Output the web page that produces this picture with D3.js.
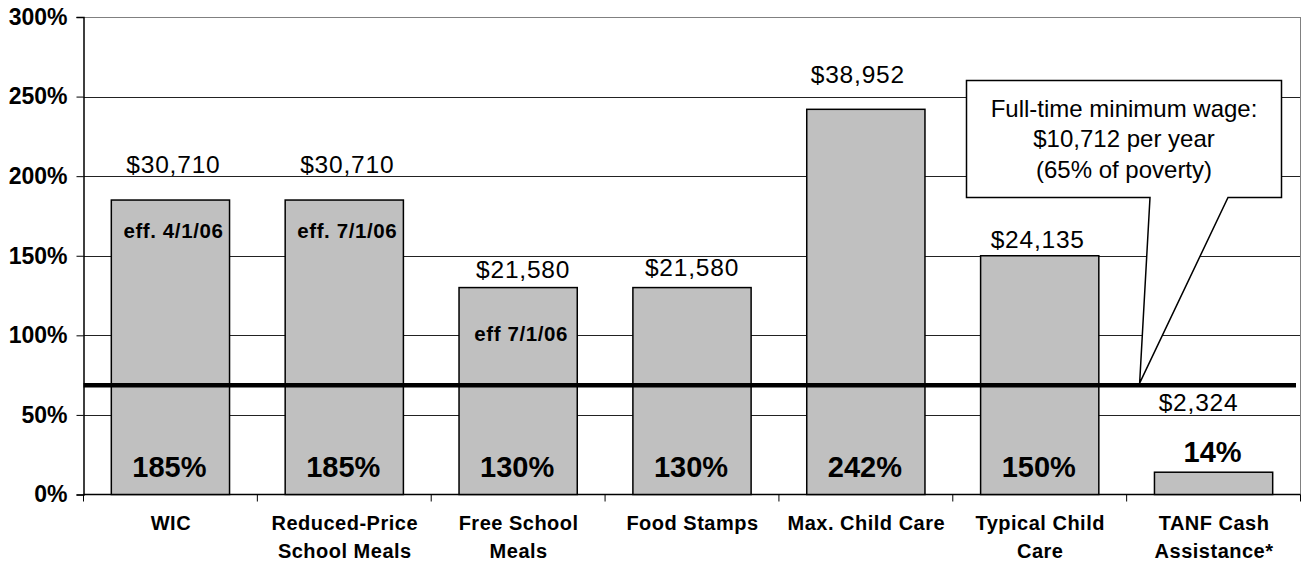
<!DOCTYPE html>
<html>
<head>
<meta charset="utf-8">
<script src="https://cdn.jsdelivr.net/npm/d3@7/dist/d3.min.js"></script>
<style>
  html, body { margin: 0; padding: 0; background: #fff; }
  svg { display: block; font-family: "Liberation Sans", Arial, Helvetica, sans-serif; }
</style>
</head>
<body>
<svg id="chart" width="1302" height="563"></svg>
<script>
// ---- data ----
const categories = [
  ["WIC"],
  ["Reduced-Price", "School Meals"],
  ["Free School", "Meals"],
  ["Food Stamps"],
  ["Max. Child Care"],
  ["Typical Child", "Care"],
  ["TANF Cash", "Assistance*"]
];
const percentOfPoverty = [185, 185, 130, 130, 242, 150, 14];
const dollarLabels = ["$30,710", "$30,710", "$21,580", "$21,580", "$38,952", "$24,135", "$2,324"];
const dollarLabelLevel = [202, 202, 136, 137, 258.5, 155, 52.4]; // in % units
const effectiveNotes = ["eff. 4/1/06", "eff. 7/1/06", "eff 7/1/06", "", "", "", ""];
const effectiveLevel = [161, 161, 96.5, 0, 0, 0, 0];
const yTicks = [0, 50, 100, 150, 200, 250, 300];
const minWageLevel = 68.7;
const calloutLines = ["Full-time minimum wage:", "$10,712 per year", "(65% of poverty)"];

// ---- layout ----
const svg = d3.select("#chart");
const pL = 83.5, pR = 1300.5, pT = 17, pB = 494.5;

const x = d3.scaleBand().domain(d3.range(categories.length)).range([pL, pR])
  .paddingInner(0.32).paddingOuter(0.16);
const y = d3.scaleLinear().domain([0, 300]).range([pB, pT]);

// gridlines
svg.append("g").selectAll("line").data(yTicks.filter(t => t > 0)).join("line")
  .attr("x1", pL).attr("x2", pR)
  .attr("y1", d => Math.round(y(d)) + 0.5).attr("y2", d => Math.round(y(d)) + 0.5)
  .attr("stroke", d => d === 300 ? "#808080" : "#222").attr("stroke-width", 1);

// right border
svg.append("line").attr("x1", pR).attr("x2", pR)
  .attr("y1", y(300)).attr("y2", y(0)).attr("stroke", "#808080").attr("stroke-width", 1);

// y axis
const yAxis = d3.axisLeft(y).tickValues(yTicks).tickSize(7).tickPadding(9)
  .tickFormat(d => d + "%");
const gy = svg.append("g").attr("transform", `translate(${pL},0)`).call(yAxis);
gy.select(".domain").attr("stroke", "#000").attr("stroke-width", 1.5);
gy.selectAll(".tick line").attr("stroke", "#000");
gy.selectAll(".tick text").attr("font-size", 23).attr("font-weight", "bold")
  .attr("fill", "#000").attr("font-family", "'Liberation Sans', Arial, sans-serif");

// x axis (category boundary ticks)
const boundaries = d3.range(categories.length + 1).map(i => pL + i * (pR - pL) / categories.length);
svg.append("line").attr("x1", pL).attr("x2", pR).attr("y1", pB).attr("y2", pB)
  .attr("stroke", "#000").attr("stroke-width", 1.5);
svg.append("g").selectAll("line").data(boundaries).join("line")
  .attr("x1", d => d).attr("x2", d => d).attr("y1", pB).attr("y2", pB + 7)
  .attr("stroke", "#000").attr("stroke-width", 1);

// bars
svg.append("g").selectAll("rect").data(percentOfPoverty).join("rect")
  .attr("x", (d, i) => x(i)).attr("width", x.bandwidth())
  .attr("y", d => y(d)).attr("height", d => y(0) - y(d))
  .attr("fill", "#c0c0c0").attr("stroke", "#000").attr("stroke-width", 1.5);

// category labels
const cx = i => x(i) + x.bandwidth() / 2;
const catG = svg.append("g");
categories.forEach((lines, i) => {
  const t = catG.append("text").attr("text-anchor", "middle")
    .attr("font-size", 20).attr("font-weight", "bold").attr("fill", "#000")
    .attr("letter-spacing", 0.5);
  lines.forEach((ln, j) => {
    t.append("tspan").attr("x", cx(i) + 0.5).attr("y", 530 + j * 28).text(ln);
  });
});

// minimum wage line
svg.append("line").attr("x1", pL).attr("x2", 1296)
  .attr("y1", y(minWageLevel)).attr("y2", y(minWageLevel))
  .attr("stroke", "#000").attr("stroke-width", 4.5);

// dollar labels
const dollarNudge = [3, 3, 5, 0, -8, -2, -15];
svg.append("g").selectAll("text").data(dollarLabels).join("text")
  .attr("x", (d, i) => cx(i) + dollarNudge[i]).attr("y", (d, i) => y(dollarLabelLevel[i]))
  .attr("text-anchor", "middle").attr("font-size", 24.5).attr("letter-spacing", 0.8)
  .attr("fill", "#000").text(d => d);

// effective date notes
svg.append("g").selectAll("text").data(effectiveNotes).join("text")
  .attr("x", (d, i) => cx(i) + 3).attr("y", (d, i) => y(effectiveLevel[i]))
  .attr("text-anchor", "middle").attr("font-size", 20.5).attr("font-weight", "bold")
  .attr("letter-spacing", 0.6).attr("fill", "#000").text(d => d);

// percent labels
svg.append("g").selectAll("text").data(percentOfPoverty).join("text")
  .attr("x", (d, i) => cx(i) - 1).attr("y", d => d > 30 ? y(11.2) : y(d + 6.6))
  .attr("text-anchor", "middle").attr("font-size", 29).attr("font-weight", "bold")
  .attr("fill", "#000").text(d => d + "%");

// callout
const bx0 = 966.5, bx1 = 1281.5, by0 = 80.5, by1 = 197.5;
const tipX = boundaries[6] + 13, tipY = y(minWageLevel) - 2;
svg.append("path")
  .attr("d", `M${bx0},${by0} H${bx1} V${by1} H1228 L${tipX},${tipY} L1150,${by1} H${bx0} Z`)
  .attr("fill", "#fff").attr("stroke", "#000").attr("stroke-width", 1.5)
  .attr("stroke-linejoin", "miter");
const callT = svg.append("text").attr("text-anchor", "middle").attr("font-size", 24).attr("fill", "#000");
calloutLines.forEach((ln, j) => {
  callT.append("tspan").attr("x", (bx0 + bx1) / 2).attr("y", 116.5 + j * 30.5).text(ln);
});
</script>
</body>
</html>
